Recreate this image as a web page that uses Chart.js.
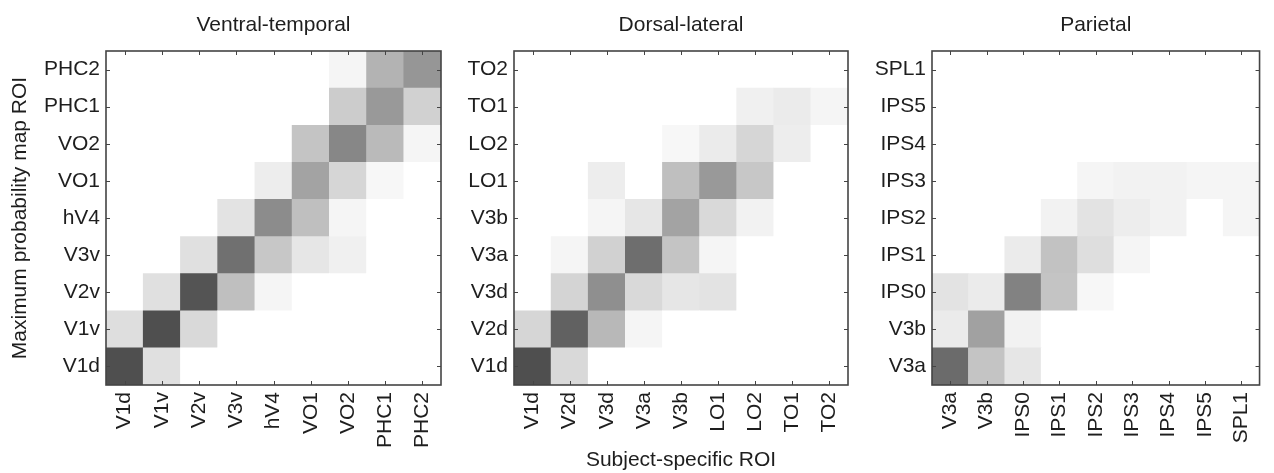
<!DOCTYPE html>
<html>
<head>
<meta charset="utf-8">
<script src="https://cdn.jsdelivr.net/npm/chart.js@4.4.1/dist/chart.umd.min.js"></script>
<style>
  html, body { margin: 0; padding: 0; background: #fff; }
  #wrap { position: relative; width: 1274px; height: 473px; }
  .box { position: absolute; top: 0; height: 473px; }
</style>
</head>
<body>
<div id="wrap">
  <div class="box" style="left:0;width:460px"><canvas id="vtCanvas"></canvas></div>
  <div class="box" style="left:455px;width:420px"><canvas id="dlCanvas"></canvas></div>
  <div class="box" style="left:862px;width:412px"><canvas id="parCanvas"></canvas></div>
</div>
<script>
// ROI names (x = subject-specific ROI, y = max probability map ROI, bottom to top)
var vtLabels = ['V1d', 'V1v', 'V2v', 'V3v', 'hV4', 'VO1', 'VO2', 'PHC1', 'PHC2'];
var dlLabels = ['V1d', 'V2d', 'V3d', 'V3a', 'V3b', 'LO1', 'LO2', 'TO1', 'TO2'];
var parLabels = ['V3a', 'V3b', 'IPS0', 'IPS1', 'IPS2', 'IPS3', 'IPS4', 'IPS5', 'SPL1'];

// overlap values, one row per map ROI (bottom row first)
var vtValues = [
  [0.69, 0.12, 0, 0, 0, 0, 0, 0, 0],
  [0.13, 0.69, 0.15, 0, 0, 0, 0, 0, 0],
  [0, 0.12, 0.67, 0.25, 0.04, 0, 0, 0, 0],
  [0, 0, 0.12, 0.56, 0.22, 0.10, 0.06, 0, 0],
  [0, 0, 0, 0.11, 0.45, 0.25, 0.04, 0, 0],
  [0, 0, 0, 0, 0.07, 0.36, 0.16, 0.03, 0],
  [0, 0, 0, 0, 0, 0.23, 0.47, 0.27, 0.04],
  [0, 0, 0, 0, 0, 0, 0.20, 0.40, 0.18],
  [0, 0, 0, 0, 0, 0, 0.04, 0.30, 0.41]
];
var dlValues = [
  [0.69, 0.15, 0, 0, 0, 0, 0, 0, 0],
  [0.16, 0.62, 0.28, 0.04, 0, 0, 0, 0, 0],
  [0, 0.17, 0.44, 0.15, 0.10, 0.11, 0, 0, 0],
  [0, 0.04, 0.18, 0.57, 0.23, 0.04, 0, 0, 0],
  [0, 0, 0.04, 0.10, 0.36, 0.15, 0.05, 0, 0],
  [0, 0, 0.07, 0, 0.25, 0.40, 0.22, 0, 0],
  [0, 0, 0, 0, 0.03, 0.08, 0.16, 0.07, 0],
  [0, 0, 0, 0, 0, 0, 0.06, 0.08, 0.04],
  [0, 0, 0, 0, 0, 0, 0, 0, 0]
];
var parValues = [
  [0.58, 0.23, 0.10, 0, 0, 0, 0, 0, 0],
  [0.08, 0.37, 0.05, 0, 0, 0, 0, 0, 0],
  [0.11, 0.08, 0.49, 0.23, 0.03, 0, 0, 0, 0],
  [0, 0, 0.08, 0.24, 0.13, 0.04, 0, 0, 0],
  [0, 0, 0, 0.05, 0.11, 0.07, 0.05, 0, 0.04],
  [0, 0, 0, 0, 0.04, 0.05, 0.05, 0.04, 0.04],
  [0, 0, 0, 0, 0, 0, 0, 0, 0],
  [0, 0, 0, 0, 0, 0, 0, 0, 0],
  [0, 0, 0, 0, 0, 0, 0, 0, 0]
];

var FONT = '"Liberation Sans", Arial, Helvetica, sans-serif';
var TEXT = '#1e1e1e';

function gray(v) {
  var g = Math.round(255 * (1 - v));
  return 'rgb(' + g + ',' + g + ',' + g + ')';
}

// box + inward tick marks on all four sides, title centred over the plot
var frameTicks = {
  id: 'frameTicks',
  afterDraw: function(chart, args, opts) {
    var ctx = chart.ctx, a = chart.chartArea;
    var xs = chart.scales.x, ys = chart.scales.yl;
    ctx.save();
    ctx.strokeStyle = '#444';
    ctx.lineWidth = 1;
    ctx.beginPath();
    for (var i = 0; i < xs.ticks.length; i++) {
      var px = Math.round(xs.getPixelForTick(i)) + 0.5;
      ctx.moveTo(px, a.bottom); ctx.lineTo(px, a.bottom - 4);
      ctx.moveTo(px, a.top); ctx.lineTo(px, a.top + 4);
    }
    for (var j = 0; j < ys.ticks.length; j++) {
      var py = Math.round(ys.getPixelForTick(j)) + 0.5;
      ctx.moveTo(a.left, py); ctx.lineTo(a.left + 4, py);
      ctx.moveTo(a.right, py); ctx.lineTo(a.right - 4, py);
    }
    ctx.stroke();
    ctx.lineWidth = 1.6;
    ctx.strokeRect(a.left, a.top, a.right - a.left, a.bottom - a.top);

    ctx.fillStyle = TEXT;
    ctx.font = '21px ' + FONT;
    ctx.textAlign = 'center';
    ctx.textBaseline = 'middle';
    ctx.fillText(opts.text, (a.left + a.right) / 2, 25);
    ctx.restore();
  }
};

function makeHeatmap(id, title, labels, values, yWidth, padRight, yTitle, xTitle) {
  var datasets = values.map(function(row, r) {
    return {
      label: labels[r],
      data: labels.map(function() { return 1; }),
      backgroundColor: row.map(gray),
      borderWidth: 0,
      barPercentage: 1,
      categoryPercentage: 1,
      yAxisID: 'y'
    };
  });
  return new Chart(document.getElementById(id), {
    type: 'bar',
    data: { labels: labels, datasets: datasets },
    plugins: [frameTicks],
    options: {
      responsive: true,
      maintainAspectRatio: false,
      animation: false,
      layout: { padding: { left: 0, right: padRight, top: 51, bottom: 0 } },
      plugins: {
        legend: { display: false },
        tooltip: { enabled: false },
        title: { display: false },
        frameTicks: { text: title }
      },
      scales: {
        x: {
          type: 'category',
          stacked: true,
          offset: true,
          grid: { display: false, drawTicks: false },
          border: { display: false },
          ticks: {
            autoSkip: false, maxRotation: 90, minRotation: 90, padding: 7,
            color: TEXT, font: { family: FONT, size: 21 }
          },
          title: {
            display: !!xTitle, text: xTitle || '', color: TEXT,
            font: { family: FONT, size: 21 }, padding: { top: 0, bottom: 0 }
          },
          afterFit: function(s) { s.height = 88; }
        },
        y: { type: 'linear', stacked: true, min: 0, max: 9, display: false },
        yl: {
          type: 'category',
          labels: labels,
          position: 'left',
          reverse: true,
          offset: true,
          grid: { display: false, drawTicks: false },
          border: { display: false },
          ticks: { padding: 6, color: TEXT, font: { family: FONT, size: 21 } },
          title: {
            display: !!yTitle, text: yTitle || '', color: TEXT,
            font: { family: FONT, size: 21 }, padding: { top: 8, bottom: 0 }
          },
          afterFit: function(s) { s.width = yWidth; }
        }
      }
    }
  });
}

makeHeatmap('vtCanvas', 'Ventral-temporal', vtLabels, vtValues, 106, 19, 'Maximum probability map ROI', null);
makeHeatmap('dlCanvas', 'Dorsal-lateral', dlLabels, dlValues, 59, 27, null, 'Subject-specific ROI');
makeHeatmap('parCanvas', 'Parietal', parLabels, parValues, 70, 8, null, null);
</script>
</body>
</html>
